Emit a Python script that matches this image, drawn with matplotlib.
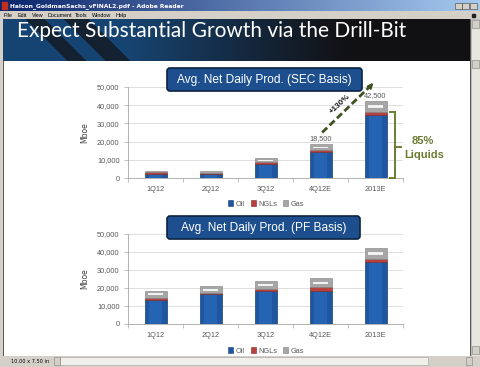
import numpy as np
import matplotlib.pyplot as plt
from matplotlib.patches import Rectangle, FancyBboxPatch

# data
quarters = ['1Q12', '2Q12', '3Q12', '4Q12E', '2013E']
sec_oil = [2400, 2200, 7500, 14100, 34500]
sec_ngl = [700, 800, 1100, 1300, 1700]
sec_gas = [700, 800, 2550, 3100, 6300]
pf_oil = [13300, 16500, 18200, 18400, 34500]
pf_ngl = [1400, 600, 1200, 2300, 1700]
pf_gas = [3900, 3800, 4300, 4700, 6300]
sec_totals = {3: '18,500', 4: '42,500'}
yticks = [0, 10000, 20000, 30000, 40000, 50000]

W, H = 480, 367
fig = plt.figure(figsize=(W / 100, H / 100), dpi=100)
fig.patch.set_facecolor('white')

def px_axes(l, t, r, b):
    return fig.add_axes([l / W, 1 - b / H, (r - l) / W, (b - t) / H])

# ---- window chrome (pixel coords) ----
bg = fig.add_axes([0, 0, 1, 1])
bg.axis('off')

bg.add_patch(Rectangle((0, 0), W, H, color='#d4d0c8', zorder=0))
tb = np.linspace(0, 1, 200)
c1, c2 = np.array([0.04, 0.14, 0.42]), np.array([0.65, 0.79, 0.94])
bar_img = (c1 + (c2 - c1) * tb[:, None])[None, :, :]
bg.imshow(bar_img, extent=(0, W, 11, 0), aspect='auto', zorder=2)
bg.add_patch(Rectangle((1.5, 2), 5.5, 7, color='#c03020', zorder=3))
bg.text(10, 5.6, 'Halcon_GoldmanSachs_vFINAL2.pdf - Adobe Reader', color='white',
        fontsize=4.3, fontweight='bold', va='center', ha='left', family='DejaVu Sans')
for bx in [455, 462, 470]:
    bg.add_patch(Rectangle((bx, 2.5), 7, 6.5, fc='#d4d0c8', ec='#404040', lw=0.4, zorder=3))
for name, mx in [('File', 4), ('Edit', 17), ('View', 32), ('Document', 47),
                 ('Tools', 75), ('Window', 92), ('Help', 115)]:
    bg.text(mx, 15.3, name, fontsize=3.9, va='center', ha='left', color='black',
            family='Liberation Sans')
bg.add_patch(Rectangle((472, 13.5), 3, 3, color='#202020', zorder=3))

# slide area
bg.add_patch(Rectangle((3, 19), 467, 337, fc='white', ec='#404040', lw=0.6, zorder=1))
hh, ww = 42, 467
yy, xx = np.mgrid[0:hh, 0:ww]
d = xx - yy * 1.0
stripes = ((d > 22) & (d < 42)) | ((d > 60) & (d < 86))
fade = np.clip(1 - (xx - 120) / 220, 0, 1)
blue = np.array([0.09, 0.27, 0.45])
dark = np.array([0.07, 0.07, 0.08])
wgt = np.where(stripes, 0.3, 1.0) * fade
hdr = dark + (blue - dark) * wgt[..., None]
bg.imshow(hdr, extent=(3, 470, 61, 19), aspect='auto', zorder=2)

# scrollbars / status
bg.add_patch(Rectangle((471, 19), 9, 337, fc='#e8e6e0', ec='#a0a0a0', lw=0.4, zorder=1))
for sy in [20, 60, 346]:
    bg.add_patch(Rectangle((471.5, sy), 7.5, 8, fc='#d4d0c8', ec='#808080', lw=0.4, zorder=3))
bg.add_patch(Rectangle((0, 356), W, 11, fc='#d4d0c8', zorder=1))
bg.add_patch(Rectangle((60, 357), 368, 8, fc='#f0efea', ec='#a0a0a0', lw=0.4, zorder=3))
bg.add_patch(Rectangle((54, 357), 6, 8, fc='#d4d0c8', ec='#808080', lw=0.4, zorder=3))
bg.add_patch(Rectangle((466, 357), 6, 8, fc='#d4d0c8', ec='#808080', lw=0.4, zorder=3))
bg.text(11, 361.5, '10.00 x 7.50 in', fontsize=3.6, va='center', ha='left', color='black')
bg.set_xlim(0, W)
bg.set_ylim(H, 0)

# ---- charts ----
oil_c, ngl_c, gas_c = '#1f56a0', '#b8413e', '#a6a6a6'
grey_txt = '#595959'

def draw_panel(ax, oil, ngl, gas):
    x = np.arange(len(quarters))
    oil = np.array(oil); ngl = np.array(ngl); gas = np.array(gas)
    ax.bar(x, oil, width=0.4, color=oil_c, edgecolor='#163f78', lw=0.5, zorder=3)
    ax.bar(x, oil, width=0.24, color='#2464b2', lw=0, zorder=3)
    ax.bar(x, ngl, width=0.4, bottom=oil, color=ngl_c, edgecolor='#7a2a28', lw=0.4, zorder=3)
    ax.bar(x, gas, width=0.4, bottom=oil + ngl, color=gas_c, edgecolor='#7f7f7f', lw=0.4, zorder=3)
    ax.bar(x, gas * 0.25, width=0.26, bottom=oil + ngl + gas * 0.35, color='#f2f2f2', lw=0, zorder=3)
    ax.set_xlim(-0.5, len(quarters) - 0.5)
    ax.set_ylim(0, 50000)
    ax.set_yticks(yticks)
    ax.set_yticklabels([f'{v:,}' for v in yticks])
    ax.set_xticks(x)
    ax.set_xticklabels(quarters)
    ax.set_xticks(np.arange(len(quarters) + 1) - 0.5, minor=True)
    ax.tick_params(axis='x', which='major', length=0, pad=6, labelsize=5.3, labelcolor=grey_txt)
    ax.tick_params(axis='x', which='minor', length=3, width=0.5, color='#a6a6a6')
    ax.tick_params(axis='y', length=3, width=0.5, color='#a6a6a6', pad=3,
                   labelsize=5.3, labelcolor=grey_txt)
    ax.yaxis.grid(True, color='#d9d9d9', lw=0.6, zorder=0)
    ax.set_axisbelow(True)
    for s in ['top', 'right']:
        ax.spines[s].set_visible(False)
    for s in ['left', 'bottom']:
        ax.spines[s].set_color('#a6a6a6')
        ax.spines[s].set_linewidth(0.6)
    ax.set_ylabel('Mboe', fontsize=5.5, color='#404040')
    ax.yaxis.set_label_coords(-0.14, 0.5)
    for lab in ax.get_xticklabels() + ax.get_yticklabels():
        lab.set_family('Liberation Sans')
    return oil + ngl + gas

ax1 = px_axes(128, 87, 403, 178)
tot1 = draw_panel(ax1, sec_oil, sec_ngl, sec_gas)
for i, s in sec_totals.items():
    ax1.annotate(s, (i, tot1[i]), xytext=(0, 1.5), textcoords='offset points',
                 ha='center', va='bottom', fontsize=5.3, color=grey_txt, family='Liberation Sans')

ax2 = px_axes(128, 234, 403, 324)
draw_panel(ax2, pf_oil, pf_ngl, pf_gas)

# growth arrow between 4Q12E and 2013E
arrow_c = '#3d5220'
p0 = (3.03, tot1[3] + 6500)
p1 = (3.99, tot1[4] + 11000)
ax1.plot([p0[0], p1[0] - 0.07], [p0[1], p1[1] - 2600], ls=(0, (2.5, 1.2)), lw=2,
         color=arrow_c, clip_on=False, zorder=5)
ax1.annotate('', xy=p1, xytext=(p1[0] - 0.1, p1[1] - 3700),
             arrowprops=dict(arrowstyle='-|>', color=arrow_c, lw=1.5, mutation_scale=7),
             annotation_clip=False, zorder=5)
ax1.text(3.36, 40800, '+130%', rotation=43, fontsize=5.8, fontweight='bold', ha='center',
         va='center', color='#1a1a1a', rotation_mode='anchor', zorder=6,
         family='Liberation Sans')

# liquids brace
liq = sec_oil[4] + sec_ngl[4]
brace_c = '#6b7d32'
ax1.plot([4.27, 4.35, 4.35, 4.27], [liq, liq, 0, 0], color=brace_c, lw=1.4,
         clip_on=False, zorder=5, solid_joinstyle='miter')
ax1.plot([4.35, 4.47], [liq * 0.47, liq * 0.47], color=brace_c, lw=1.4, clip_on=False, zorder=5)

# ---- overlay: titles, boxes, legends ----
fg = fig.add_axes([0, 0, 1, 1])
fg.set_xlim(0, W)
fg.set_ylim(H, 0)
fg.axis('off')
fg.patch.set_alpha(0)

fg.text(17, 31, 'Expect Substantial Growth via the Drill-Bit', color='white',
        fontsize=15, family='Lato', va='center', ha='left')

for (l, t, r, b, txt) in [(167, 68, 362, 91, 'Avg. Net Daily Prod. (SEC Basis)'),
                          (167, 216, 360, 239, 'Avg. Net Daily Prod. (PF Basis)')]:
    fg.add_patch(FancyBboxPatch((l + 3, t + 3), r - l - 6, b - t - 6,
                                boxstyle='round,pad=3', fc='#1d4f8f', ec='#0c2340', lw=1.2, zorder=5))
    fg.text((l + r) / 2, (t + b) / 2 + 0.5, txt, color='white', fontsize=8.6,
            ha='center', va='center', family='Liberation Sans', zorder=6)

fg.text(423, 141, '85%', color=brace_c, fontsize=8, fontweight='bold', ha='center',
        va='center', family='Liberation Sans')
fg.text(424, 155, 'Liquids', color=brace_c, fontsize=8, fontweight='bold', ha='center',
        va='center', family='Liberation Sans')

handles = [Rectangle((0, 0), 1, 1, fc=oil_c, ec='#163f78', lw=0.4),
           Rectangle((0, 0), 1, 1, fc=ngl_c, ec='#7a2a28', lw=0.4),
           Rectangle((0, 0), 1, 1, fc=gas_c, ec='#7f7f7f', lw=0.4)]
for ly in [204, 351]:
    fig.legend(handles, ['Oil', 'NGLs', 'Gas'], loc='center', ncol=3,
               bbox_to_anchor=(266 / W, 1 - ly / H), frameon=False,
               prop={'family': 'Liberation Sans', 'size': 5.3},
               handlelength=0.7, handleheight=0.7, handletextpad=0.3,
               columnspacing=0.8, labelcolor=grey_txt)

fig.savefig('out.png', dpi=100)
